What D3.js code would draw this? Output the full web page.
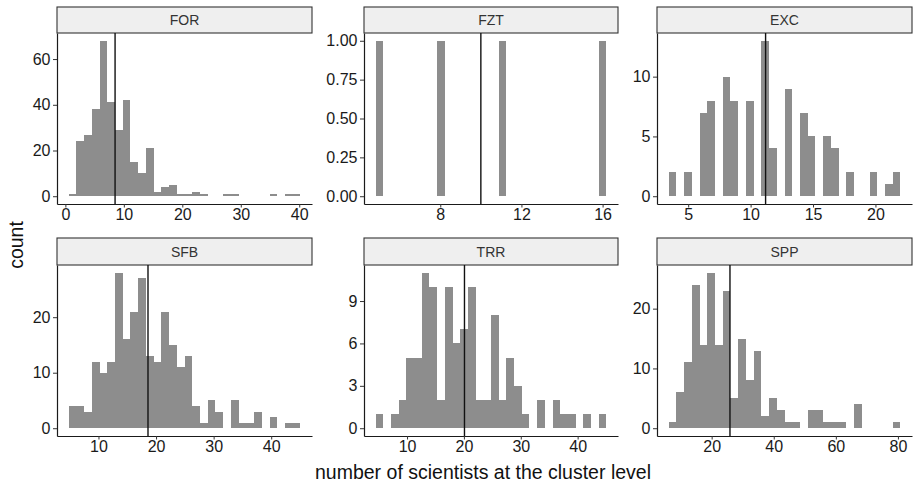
<!DOCTYPE html>
<html>
<head>
<meta charset="utf-8">
<script src="https://cdn.jsdelivr.net/npm/d3@7"></script>
<style>
  body { margin: 0; background: #fff; }
  svg { display: block; font-family: "Liberation Sans", Arial, sans-serif; }
</style>
</head>
<body>
<div id="chart"></div>
<script>
// facet names, in reading order
var facetNames = ["FOR", "FZT", "EXC", "SFB", "TRR", "SPP"];

// histogram counts, 30 bins per facet
var countsFOR = [1,24,27,38,68,41,29,42,15,10,21,2,4,5,1,1,2,1,0,0,1,1,0,0,0,0,1,0,1,1];
var countsFZT = [1,0,0,0,0,0,0,0,1,0,0,0,0,0,0,0,1,0,0,0,0,0,0,0,0,0,0,0,0,1];
var countsEXC = [2,0,2,0,7,8,0,10,8,0,8,0,13,4,0,9,0,7,5,0,5,4,0,2,0,0,2,0,1,2];
var countsSFB = [4,4,3,12,10,12,28,16,21,27,13,12,21,15,11,13,4,1,5,3,0,5,1,1,3,0,2,0,1,1];
var countsTRR = [1,0,1,2,5,5,11,10,2,10,6,7,10,2,2,8,2,5,3,1,0,2,0,2,1,1,0,1,0,1];
var countsSPP = [1,6,11,24,14,26,14,23,5,15,8,13,2,5,3,1,1,0,3,3,1,1,1,0,4,0,0,0,0,1];

// left edge of first bin / right edge of last bin (x units)
var binExtents = [[0.55, 40.2], [4.81, 16.19], [3.43, 22.0], [4.81, 45.07], [4.46, 45.07], [6.13, 80.8]];

// vertical reference line (mean) per facet
var meanLines = [8.5, 10, 11.2, 18.6, 20.1, 25.9];

// tick labels
var xTicks = [[0,10,20,30,40], [8,12,16], [5,10,15,20], [10,20,30,40], [10,20,30,40], [20,40,60,80]];
var yTicks = [[0,20,40,60], [0,0.25,0.5,0.75,1], [0,5,10], [0,10,20], [0,3,6,9], [0,10,20]];

var allCounts = [countsFOR, countsFZT, countsEXC, countsSFB, countsTRR, countsSPP];

var svgWidth = 915;
var svgHeight = 489;

// panel layout
var cols = [[57, 312], [364, 618], [657, 912]];
var rows = [
    {stripTop: 7, top: 33, bottom: 204},
    {stripTop: 238, top: 265, bottom: 436}
];

var barColor = "#8d8d8d";
var inkColor = "#1a1a1a";

var svg = d3.select("#chart")
    .append("svg")
    .attr("width", svgWidth)
    .attr("height", svgHeight);

facetNames.forEach(function(name, i) {
    var col = cols[i % 3];
    var row = rows[Math.floor(i / 3)];
    var counts = allCounts[i];
    var lo = binExtents[i][0], hi = binExtents[i][1];
    var bw = (hi - lo) / counts.length;
    var xPad = (hi - lo) * 0.05;
    var yMax = d3.max(counts);

    var x = d3.scaleLinear()
        .domain([lo - xPad, hi + xPad])
        .range([col[0], col[1]]);

    var y = d3.scaleLinear()
        .domain([-yMax * 0.05, yMax * 1.05])
        .range([row.bottom, row.top]);

    var g = svg.append("g");

    // strip
    g.append("rect")
        .attr("x", col[0])
        .attr("y", row.stripTop)
        .attr("width", col[1] - col[0])
        .attr("height", row.top - row.stripTop)
        .attr("fill", "#efefef")
        .attr("stroke", "#333")
        .attr("stroke-width", 1.1);

    g.append("text")
        .attr("x", (col[0] + col[1]) / 2)
        .attr("y", (row.stripTop + row.top) / 2)
        .attr("dy", "0.36em")
        .attr("text-anchor", "middle")
        .style("font-size", "14px")
        .attr("fill", "#333")
        .text(name);

    // bars, crisp edges so neighbours join without seams
    g.selectAll("rect.bar")
        .data(counts.map((c, k) => ({k: k, c: c})).filter(d => d.c > 0))
        .enter()
        .append("rect")
        .attr("class", "bar")
        .attr("x", d => x(lo + d.k * bw))
        .attr("width", d => x(lo + (d.k + 1) * bw) - x(lo + d.k * bw))
        .attr("y", d => y(d.c))
        .attr("height", d => y(0) - y(d.c))
        .attr("fill", barColor)
        .attr("shape-rendering", "crispEdges");

    // mean line
    g.append("line")
        .attr("x1", x(meanLines[i]))
        .attr("x2", x(meanLines[i]))
        .attr("y1", row.top)
        .attr("y2", row.bottom)
        .attr("stroke", "#111")
        .attr("stroke-width", 1.4);

    // axes
    var bottomAxis = d3.axisBottom(x)
        .tickValues(xTicks[i])
        .tickSize(3.5)
        .tickSizeOuter(0)
        .tickPadding(1)
        .tickFormat(d3.format("d"));

    var leftAxis = d3.axisLeft(y)
        .tickValues(yTicks[i])
        .tickSize(4)
        .tickSizeOuter(0)
        .tickPadding(2.5)
        .tickFormat(name == "FZT" ? d3.format(".2f") : d3.format("d"));

    var gx = g.append("g")
        .attr("transform", `translate(0, ${row.bottom})`)
        .call(bottomAxis);

    var gy = g.append("g")
        .attr("transform", `translate(${col[0]}, 0)`)
        .call(leftAxis);

    [gx, gy].forEach(function(ax) {
        ax.select(".domain").attr("stroke", inkColor).attr("stroke-width", 1.2);
        ax.selectAll(".tick line").attr("stroke", "#333").attr("stroke-width", 1);
        ax.selectAll(".tick text")
            .attr("fill", inkColor)
            .style("font-size", "16px")
            .style("font-family", "'Liberation Sans', Arial, sans-serif");
    });
});

// axis titles
svg.append("text")
    .attr("x", 483)
    .attr("y", 479)
    .attr("text-anchor", "middle")
    .style("font-size", "19.5px")
    .attr("fill", "#111")
    .text("number of scientists at the cluster level");

svg.append("text")
    .attr("transform", "translate(23, 245) rotate(-90)")
    .attr("text-anchor", "middle")
    .style("font-size", "19.5px")
    .attr("fill", "#111")
    .text("count");
</script>
</body>
</html>
